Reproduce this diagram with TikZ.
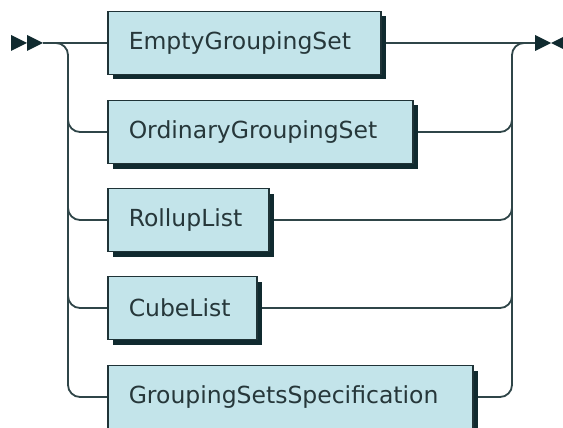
\documentclass[tikz,border=0pt]{standalone}
\usepackage{fontspec}
\setmainfont{DejaVu Sans}
\usetikzlibrary{shadows,calc}
\definecolor{linec}{HTML}{2F4548}
\definecolor{boxfill}{HTML}{C3E4EA}
\definecolor{boxline}{HTML}{1F3337}
\definecolor{shadowc}{HTML}{102A2F}
\definecolor{textc}{HTML}{26373A}
\tikzset{
  rrbox/.style={rectangle, draw=boxline, line width=1.5pt, fill=boxfill,
    minimum height=63pt, anchor=west, inner xsep=21pt, inner ysep=0pt,
    text width=#1, align=left, text=textc,
    font=\fontsize{23.5}{26}\selectfont,
    general shadow={fill=shadowc, shadow xshift=5pt, shadow yshift=-5pt}},
  rrline/.style={draw=linec, line width=1.8pt},
  rrarrow/.style={fill=shadowc, draw=none}
}
\begin{document}
\begin{tikzpicture}[x=1pt,y=-1pt]
\clip (0,0) rectangle (563,428);
\fill[white] (0,0) rectangle (563,428);
% junction coordinates
\coordinate (s) at (43,43);
\coordinate (e) at (535,43);
\coordinate (l1) at (68,43);
\coordinate (l2) at (68,132);
\coordinate (l3) at (68,220);
\coordinate (l4) at (68,308);
\coordinate (l5) at (68,397);
\coordinate (r1) at (512,43);
\coordinate (r2) at (512,132);
\coordinate (r3) at (512,220);
\coordinate (r4) at (512,308);
\coordinate (r5) at (512,397);
% boxes (positions only, drawn later on top)
\path node[rrbox=231pt, draw=none, fill=none, general shadow={}, text opacity=0] (b1) at (107,43) {EmptyGroupingSet}
      node[rrbox=263pt, draw=none, fill=none, general shadow={}, text opacity=0] (b2) at (107,132) {OrdinaryGroupingSet}
      node[rrbox=119pt, draw=none, fill=none, general shadow={}, text opacity=0] (b3) at (107,220) {RollupList}
      node[rrbox=107pt, draw=none, fill=none, general shadow={}, text opacity=0] (b4) at (107,308) {CubeList}
      node[rrbox=323pt, draw=none, fill=none, general shadow={}, text opacity=0] (b5) at (107,397) {GroupingSetsSpecification};
% main line
\draw[rrline] (s) -- (b1.west);
\draw[rrline] (b1.east) -- (e);
% left branches
\draw[rrline, rounded corners=12pt] (s) -- (l1) -- (l5) -- (b5.west);
\foreach \i in {2,3,4}{
  \draw[rrline, rounded corners=12pt] ($(l\i)+(0,-14)$) -- (l\i) -- (b\i.west);
}
% right branches
\draw[rrline, rounded corners=12pt] (b5.east) -- (r5) -- (r1) -- (e);
\foreach \i in {2,3,4}{
  \draw[rrline, rounded corners=12pt] (b\i.east) -- (r\i) -- ($(r\i)+(0,-14)$);
}
% visible boxes
\node[rrbox=231pt] at (b1.west) {EmptyGroupingSet};
\node[rrbox=263pt] at (b2.west) {OrdinaryGroupingSet};
\node[rrbox=119pt] at (b3.west) {RollupList};
\node[rrbox=107pt] at (b4.west) {CubeList};
\node[rrbox=323pt] at (b5.west) {GroupingSetsSpecification};
% start and end marks
\path[rrarrow] (11,35) -- (27,43) -- (11,51) -- cycle;
\path[rrarrow] (27,35) -- (43,43) -- (27,51) -- cycle;
\path[rrarrow] (535,35) -- (551,43) -- (535,51) -- cycle;
\path[rrarrow] (567,35) -- (551,43) -- (567,51) -- cycle;
\end{tikzpicture}
\end{document}
